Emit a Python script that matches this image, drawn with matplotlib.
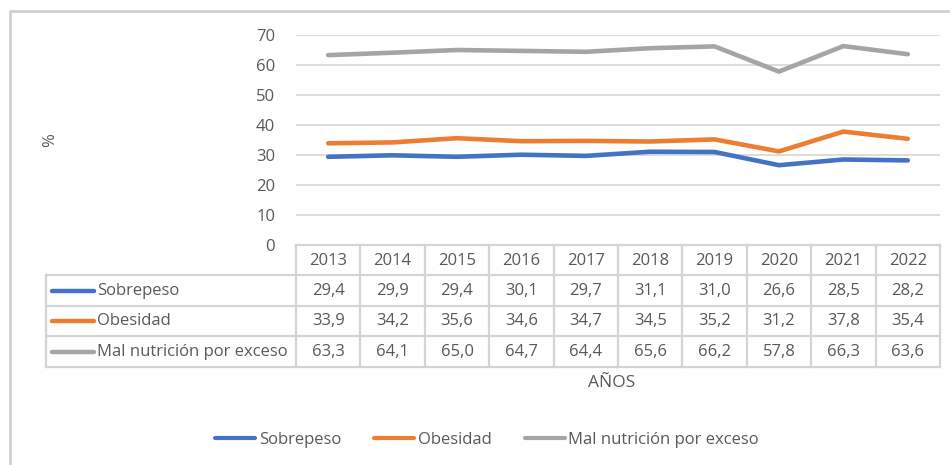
import numpy as np
import matplotlib
matplotlib.use("Agg")
import matplotlib.pyplot as plt
from matplotlib.lines import Line2D

# data
years = ["2013", "2014", "2015", "2016", "2017", "2018", "2019", "2020", "2021", "2022"]
sobrepeso = [29.4, 29.9, 29.4, 30.1, 29.7, 31.1, 31.0, 26.6, 28.5, 28.2]
obesidad = [33.9, 34.2, 35.6, 34.6, 34.7, 34.5, 35.2, 31.2, 37.8, 35.4]
mal_nutricion = [63.3, 64.1, 65.0, 64.7, 64.4, 65.6, 66.2, 57.8, 66.3, 63.6]
series_names = ["Sobrepeso", "Obesidad", "Mal nutrición por exceso"]
yticks = [0, 10, 20, 30, 40, 50, 60, 70]

colors = ["#4472C4", "#ED7D31", "#A5A5A5"]
txt = "#595959"
grid = "#D9D9D9"
border = "#D0D0D0"

plt.rcParams['font.family'] = ['Open Sans', 'DejaVu Sans']
fs = 12

W, H = 950, 465
fig = plt.figure(figsize=(W / 100, H / 100), dpi=100)

# pixel layout
left_px, right_px = 296, 940
top_px, zero_px = 35, 245
rows_px = [245, 275, 306, 336, 367]
lab_left = 46

# overlay in pixel coords for frame and data table
ov = fig.add_axes([0, 0, 1, 1], zorder=0)
ov.set_xlim(0, W)
ov.set_ylim(H, 0)
ov.axis("off")
ov.patch.set_alpha(0)

# outer frame (top and left)
ov.plot([10, 10, W], [H, 11, 11], color=border, lw=2, solid_capstyle="butt")

# main plot
ax = fig.add_axes([left_px / W, 1 - zero_px / H, (right_px - left_px) / W,
                   (zero_px - top_px) / H], zorder=2)
ax.patch.set_alpha(0)
x = np.arange(len(years))
data = [sobrepeso, obesidad, mal_nutricion]
for vals, c in zip(data, colors):
    ax.plot(x, vals, color=c, lw=3.3, solid_joinstyle="round", solid_capstyle="round")
ax.set_xlim(-0.5, len(years) - 0.5)
ax.set_ylim(0, 70)
ax.set_yticks(yticks)
ax.set_xticks([])
for y in yticks[1:]:
    ax.axhline(y, color=grid, lw=1.3, zorder=0)
for s in ax.spines.values():
    s.set_visible(False)
ax.tick_params(axis="y", length=0, pad=15, labelsize=fs, labelcolor=txt)

# data table
ncol = len(years)
colw = (right_px - left_px) / ncol
edges = [left_px + colw * k for k in range(ncol + 1)]
lc = "#D4D4D4"
lw = 1.6
ov.plot([left_px, right_px], [rows_px[0], rows_px[0]], color=lc, lw=lw)
for yy in rows_px[1:]:
    ov.plot([lab_left, right_px], [yy, yy], color=lc, lw=lw)
for xx in edges:
    ov.plot([xx, xx], [rows_px[0], rows_px[-1]], color=lc, lw=lw)
ov.plot([lab_left, lab_left], [rows_px[1], rows_px[-1]], color=lc, lw=lw)

hc = (rows_px[0] + rows_px[1]) / 2 + 1
for k, yr in enumerate(years):
    ov.text(left_px + colw * (k + 0.5), hc, yr, ha="center", va="center",
            fontsize=fs, color=txt)
for r, (name, vals, c) in enumerate(zip(series_names, data, colors)):
    yc = (rows_px[r + 1] + rows_px[r + 2]) / 2
    ov.plot([52, 94], [yc, yc], color=c, lw=3.2, solid_capstyle="round")
    ov.text(97, yc, name, ha="left", va="center", fontsize=fs, color=txt)
    for k, v in enumerate(vals):
        ov.text(left_px + colw * (k + 0.5), yc, f"{v:.1f}".replace(".", ","),
                ha="center", va="center", fontsize=fs, color=txt)

# axis titles
ov.text(50, 140, "%", rotation=90, ha="center", va="center", fontsize=fs, color=txt)
ov.text(612, 383, "AÑOS", ha="center", va="center", fontsize=fs + 0.5, color=txt)

# legend
handles = [Line2D([], [], color=c, lw=3.0, solid_capstyle="round") for c in colors]
fig.legend(handles, series_names, loc="center", bbox_to_anchor=(487 / W, 1 - 440 / H),
           ncol=3, frameon=False, fontsize=fs, labelcolor=txt, handlelength=2.4,
           handletextpad=0.2, columnspacing=2.0)

fig.savefig("out.png", dpi=100)
